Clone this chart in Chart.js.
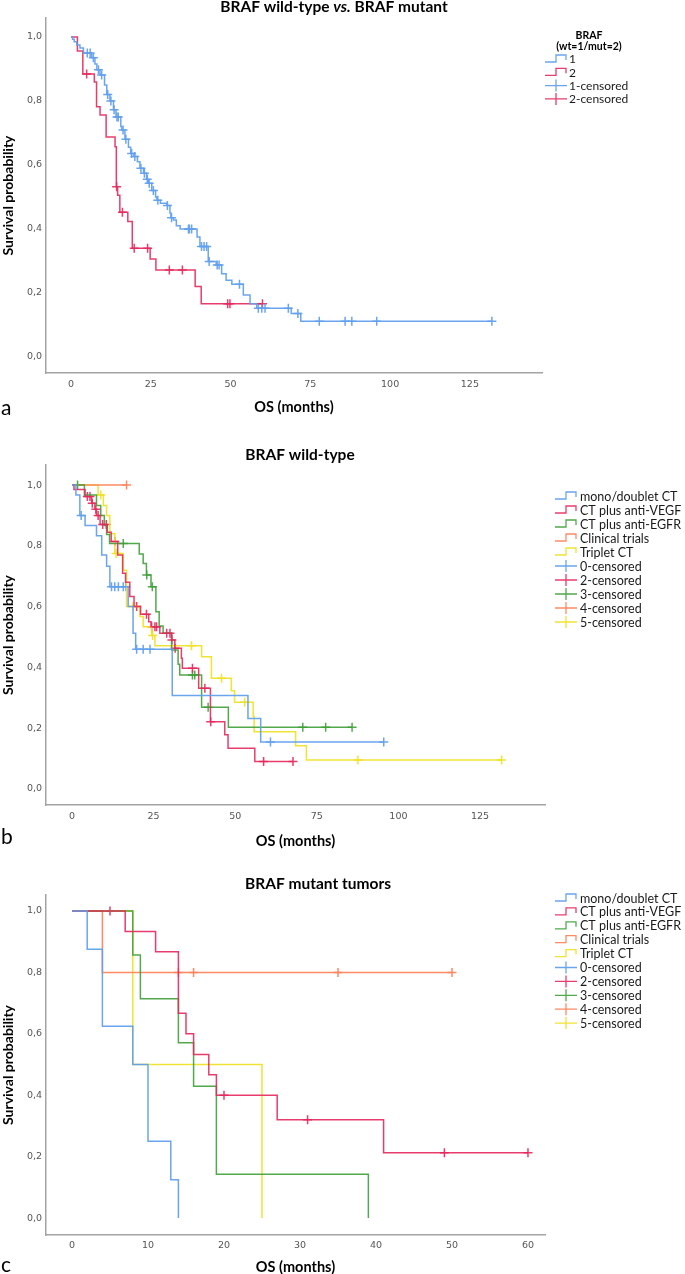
<!DOCTYPE html>
<html>
<head>
<meta charset="utf-8">
<script src="https://cdn.jsdelivr.net/npm/chart.js@4"></script>
<style>
  html, body { margin: 0; padding: 0; background: #fff; overflow: hidden; }
  canvas { position: absolute; left: 0; }
</style>
</head>
<body>
<canvas id="km_a" width="685" height="430" style="top:0px"></canvas>
<canvas id="km_b" width="685" height="430" style="top:430px"></canvas>
<canvas id="km_c" width="685" height="420" style="top:860px"></canvas>
<script>
// ---- panel a: BRAF wild-type (1) vs mutant (2) ----
const aWtTime = [0, 0.5, 1, 1.8, 2.8, 3.9, 6.5, 7.5, 8.1, 9.1, 10.5, 11.2, 12.2, 13.3, 14.1, 15.6, 15.9, 16.9, 18, 18.7, 19.7, 20.8, 21.6, 22.7, 23.7, 24.2, 25.3, 26.5, 26.9, 28, 30, 31, 31.3, 32.1, 33, 34.2, 39.5, 40.4, 43, 45.5, 47.2, 48.6, 50.4, 54, 56.1, 58.2, 69, 72];
const aWtSurv = [1, 0.993, 0.985, 0.975, 0.965, 0.95, 0.935, 0.915, 0.897, 0.881, 0.85, 0.82, 0.8, 0.772, 0.75, 0.72, 0.709, 0.68, 0.655, 0.636, 0.626, 0.61, 0.59, 0.574, 0.555, 0.543, 0.52, 0.5, 0.49, 0.48, 0.473, 0.45, 0.435, 0.428, 0.41, 0.4, 0.375, 0.345, 0.298, 0.287, 0.26, 0.24, 0.227, 0.194, 0.166, 0.152, 0.136, 0.112];
const aWtCens = [5.1, 6, 7, 8.6, 9.6, 11.5, 12.5, 13.5, 14.4, 14.8, 16.3, 17.2, 19, 20, 21.9, 23, 23.9, 24.5, 25.8, 27.2, 30.2, 31.5, 36.8, 37.1, 37.8, 40.9, 41.7, 42.5, 43.3, 45.8, 46.4, 52.8, 58.7, 59.8, 60.8, 68.1, 71.1, 77.8, 85.9, 88, 95.8, 131.9];
const aMutTime = [0, 2, 3.7, 7.3, 8, 9.1, 11, 13.8, 14.2, 14.6, 15.3, 17.8, 19.2, 24.8, 26.6, 38.9, 40.8];
const aMutSurv = [1, 0.956, 0.884, 0.859, 0.782, 0.756, 0.687, 0.657, 0.532, 0.505, 0.452, 0.423, 0.34, 0.306, 0.272, 0.22, 0.166];
const aMutCens = [4.9, 14.3, 16.1, 19.8, 24, 30.8, 34.9, 49.1, 49.8, 60];
const aXTicks = [0, 25, 50, 75, 100, 125];

// ---- panel b: BRAF wild-type by treatment ----
const bMonoTime = [0, 1.2, 2.4, 4, 7.5, 9.1, 10.6, 11.6, 17.2, 18.7, 19.5, 30.7, 53.9, 57.8];
const bMonoSurv = [1, 0.967, 0.9, 0.867, 0.833, 0.77, 0.733, 0.665, 0.6, 0.512, 0.46, 0.307, 0.232, 0.154];
const bMonoCens = [2.8, 12.1, 13.1, 14.2, 15.7, 16.5, 19.8, 21.8, 23.9, 60.8, 95.5];
const bVegfTime = [0, 0.6, 4, 6, 7, 7.5, 8.6, 10.8, 12, 14, 15.5, 16.4, 17.7, 19, 21, 23.5, 24.2, 26.9, 30.5, 31.5, 33.5, 33.8, 38.8, 42.4, 46.8, 47.8, 56];
const bVegfSurv = [1, 0.985, 0.962, 0.94, 0.92, 0.9, 0.87, 0.845, 0.814, 0.77, 0.71, 0.68, 0.633, 0.6, 0.575, 0.55, 0.534, 0.512, 0.49, 0.463, 0.43, 0.397, 0.331, 0.221, 0.178, 0.134, 0.09];
const bVegfCens = [4.7, 5.5, 6.2, 7.3, 8, 9.4, 10.5, 13.1, 19.8, 22.8, 24.4, 25.4, 25.9, 29, 30, 30.6, 31.6, 36.9, 40.7, 42.5, 58.7, 67.7];
const bEgfrTime = [0, 3.8, 7.5, 8.8, 9.9, 10.6, 11.5, 20.6, 21.8, 22.8, 24.2, 25.7, 26.7, 27.9, 30.5, 32.5, 33, 39.7, 47.9];
const bEgfrSurv = [1, 0.967, 0.933, 0.9, 0.867, 0.837, 0.808, 0.773, 0.742, 0.704, 0.665, 0.583, 0.536, 0.512, 0.457, 0.41, 0.375, 0.269, 0.203];
const bEgfrCens = [1.7, 15.7, 22.9, 24.6, 36.9, 37.6, 41.7, 70.7, 77.7, 85.8];
const bTrialTime = [0];
const bTrialSurv = [1];
const bTrialCens = [16.7];
const bTripTime = [0, 8, 9.6, 10.6, 11.6, 13.1, 15.7, 16.7, 20.8, 21.8, 24.4, 25.4, 39.7, 42.7, 48.8, 49.8, 55.5, 55.8, 68.5, 71.8];
const bTripSurv = [1, 0.967, 0.933, 0.9, 0.84, 0.775, 0.72, 0.6, 0.567, 0.534, 0.505, 0.471, 0.435, 0.364, 0.323, 0.285, 0.238, 0.188, 0.142, 0.095];
const bTripCens = [8.8, 13.5, 18.7, 24.7, 36.6, 45.8, 52.9, 87.6, 131.6];
const bXTicks = [0, 25, 50, 75, 100, 125];

// ---- panel c: BRAF mutant by treatment ----
const cMonoTime = [0, 2, 4, 8, 10, 13, 14];
const cMonoSurv = [1, 0.875, 0.625, 0.5, 0.25, 0.125, 0];
const cMonoCens = [];
const cVegfTime = [0, 7, 11, 14, 15, 16, 18, 19, 27, 41];
const cVegfSurv = [1, 0.933, 0.867, 0.667, 0.6, 0.533, 0.467, 0.4, 0.32, 0.213];
const cVegfCens = [5, 20, 31, 49, 60];
const cEgfrTime = [0, 8, 9, 14, 16, 19, 39];
const cEgfrSurv = [1, 0.857, 0.714, 0.571, 0.429, 0.143, 0];
const cEgfrCens = [];
const cTrialTime = [0, 4];
const cTrialSurv = [1, 0.8];
const cTrialCens = [14, 16, 35, 50];
const cTripTime = [0, 8, 25];
const cTripSurv = [1, 0.5, 0];
const cTripCens = [];
const cXTicks = [0, 10, 20, 30, 40, 50, 60];

const yTicks = [0, 0.2, 0.4, 0.6, 0.8, 1.0];
const treatLabels = ["mono/doublet CT", "CT plus anti-VEGF", "CT plus anti-EGFR", "Clinical trials", "Triplet CT"];
const treatCensLabels = ["0-censored", "2-censored", "3-censored", "4-censored", "5-censored"];

const BLUE = "rgba(98,160,238,0.95)";
const RED = "rgba(230,40,92,0.9)";
const GREEN = "rgba(62,160,56,0.9)";
const ORANGE = "rgba(255,132,92,0.95)";
const YELLOW = "rgba(238,226,40,0.95)";
const treatColors = [BLUE, RED, GREEN, ORANGE, YELLOW];

// KM step line: event points, then carried to the last censored time
function kmPoints(t, s, c) {
  const pts = t.map((v, i) => ({ x: v, y: s[i] }));
  const last = t[t.length - 1];
  const end = Math.max(last, ...c);
  if (end > last) pts.push({ x: end, y: s[s.length - 1] });
  return pts;
}
function survAt(t, s, time) {
  let y = s[0];
  t.forEach((v, i) => { if (v <= time) y = s[i]; });
  return y;
}
function censPoints(t, s, c) {
  return c.map(v => ({ x: v, y: survAt(t, s, v) }));
}

function buildSets(groups) {
  const lines = groups.map(g => ({
    type: "line", label: g.label, data: kmPoints(g.t, g.s, g.c),
    borderColor: g.color, borderWidth: 1.5, stepped: true,
    pointRadius: 0, fill: false, tension: 0
  }));
  const marks = groups.map(g => ({
    type: "scatter", label: g.censLabel, data: censPoints(g.t, g.s, g.c),
    borderColor: g.color, backgroundColor: g.color, pointStyle: "cross",
    pointRadius: 4.5, pointBorderWidth: 1.5, borderWidth: 1.5, showLine: false
  }));
  return lines.concat(marks);
}

// titles, panel letters and the SPSS-like legend
const panelDeco = {
  id: "panelDeco",
  afterDraw(chart, args, o) {
    const ctx = chart.ctx;
    ctx.save();
    ctx.fillStyle = "#000";
    ctx.textBaseline = "middle";

    // title, can mix italic parts
    const tf = it => (it ? "italic " : "") + "bold 15.5px Lato";
    let w = 0;
    o.title.forEach(seg => { ctx.font = tf(seg.it); w += ctx.measureText(seg.t).width; });
    let x = o.titleX - w / 2;
    ctx.textAlign = "left";
    o.title.forEach(seg => {
      ctx.font = tf(seg.it);
      ctx.fillText(seg.t, x, o.titleY);
      x += ctx.measureText(seg.t).width;
    });

    // panel letter
    ctx.font = "21px Lato";
    ctx.fillText(o.letter, 1, o.letterY);

    // legend
    const lg = o.legend;
    if (lg.head) {
      ctx.font = "bold 10.5px Lato";
      ctx.textAlign = "center";
      lg.head.forEach((h, i) => ctx.fillText(h, lg.headX, lg.headY + i * 11));
    }
    ctx.textAlign = "left";
    ctx.font = lg.size + "px Lato";
    chart.data.datasets.forEach((ds, i) => {
      const y = lg.y + i * lg.step;
      const x0 = lg.x;
      ctx.strokeStyle = ds.borderColor;
      ctx.lineWidth = 1.3;
      ctx.beginPath();
      if (ds.type === "scatter") {
        ctx.moveTo(x0, y); ctx.lineTo(x0 + 22, y);
        ctx.moveTo(x0 + 11, y - 6); ctx.lineTo(x0 + 11, y + 6);
      } else {
        ctx.moveTo(x0, y + 3); ctx.lineTo(x0 + 11, y + 3);
        ctx.lineTo(x0 + 11, y - 4); ctx.lineTo(x0 + 21, y - 4);
        ctx.lineTo(x0 + 21, y + 1);
      }
      ctx.stroke();
      ctx.fillStyle = "#1a1a1a";
      ctx.fillText(ds.label, lg.textX, y + 0.5);
    });
    ctx.restore();
  }
};

function makeChart(id, p) {
  return new Chart(document.getElementById(id), {
    type: "line",
    data: { datasets: p.datasets },
    plugins: [panelDeco],
    options: {
      responsive: false,
      devicePixelRatio: 1,
      animation: false,
      events: [],
      layout: { padding: p.padding },
      plugins: {
        legend: { display: false },
        tooltip: { enabled: false },
        title: { display: false },
        panelDeco: p.deco
      },
      scales: {
        x: {
          type: "linear", min: p.xMin, max: p.xMax,
          grid: { display: false, drawTicks: false },
          border: { display: true, color: "#a3a3a3", width: 1.5 },
          afterBuildTicks: s => { s.ticks = p.xTicks.map(v => ({ value: v })); },
          afterFit: s => { s.height = p.xAxisH; },
          ticks: {
            autoSkip: false, maxRotation: 0, padding: p.xTickPad,
            color: "#555", font: { family: "DejaVu Sans", size: 9.5 },
            callback: v => String(v)
          },
          title: {
            display: true, text: "OS (months)", color: "#000",
            font: { family: "Lato", size: 14.5, weight: "bold" },
            padding: { top: 0, bottom: 0 }
          }
        },
        y: {
          type: "linear", min: p.yMin, max: p.yMax,
          grid: { display: false, drawTicks: false },
          border: { display: true, color: "#a3a3a3", width: 1.5 },
          afterBuildTicks: s => { s.ticks = yTicks.map(v => ({ value: v })); },
          afterFit: s => { s.width = 46; },
          ticks: {
            padding: 4, color: "#555", font: { family: "DejaVu Sans", size: 9.5 },
            callback: v => v.toFixed(1).replace(".", ",")
          },
          title: {
            display: true, text: "Survival probability", color: "#000",
            font: { family: "Lato", size: 14, weight: "bold" },
            padding: { top: 0, bottom: 0 }
          }
        }
      }
    }
  });
}

function treatGroups(T, S, C) {
  return treatLabels.map((lab, i) => ({
    label: lab, censLabel: treatCensLabels[i], color: treatColors[i],
    t: T[i], s: S[i], c: C[i]
  }));
}

makeChart("km_a", {
  datasets: buildSets([
    { label: "1", censLabel: "1-censored", color: BLUE, t: aWtTime, s: aWtSurv, c: aWtCens },
    { label: "2", censLabel: "2-censored", color: RED, t: aMutTime, s: aMutSurv, c: aMutCens }
  ]),
  xMin: -7.84, xMax: 147.6, yMin: -0.05, yMax: 1.059, xTicks: aXTicks,
  padding: { left: 0, top: 18, right: 143, bottom: 14 }, xAxisH: 43, xTickPad: 6,
  deco: {
    title: [{ t: "BRAF wild-type " }, { t: "vs.", it: true }, { t: " BRAF mutant" }],
    titleX: 334, titleY: 7, letter: "a", letterY: 408,
    legend: { x: 545, textX: 569, y: 59, step: 13.3, size: 12,
              head: ["BRAF", "(wt=1/mut=2)"], headX: 589, headY: 36 }
  }
});

makeChart("km_b", {
  datasets: buildSets(treatGroups(
    [bMonoTime, bVegfTime, bEgfrTime, bTrialTime, bTripTime],
    [bMonoSurv, bVegfSurv, bEgfrSurv, bTrialSurv, bTripSurv],
    [bMonoCens, bVegfCens, bEgfrCens, bTrialCens, bTripCens])),
  xMin: -7.97, xMax: 144.9, yMin: -0.053, yMax: 1.066, xTicks: bXTicks,
  padding: { left: 0, top: 35, right: 140, bottom: 10 }, xAxisH: 45, xTickPad: 6,
  deco: {
    title: [{ t: "BRAF wild-type" }], titleX: 300, titleY: 25, letter: "b", letterY: 407,
    legend: { x: 555, textX: 580, y: 66, step: 14, size: 12.5 }
  }
});

makeChart("km_c", {
  datasets: buildSets(treatGroups(
    [cMonoTime, cVegfTime, cEgfrTime, cTrialTime, cTripTime],
    [cMonoSurv, cVegfSurv, cEgfrSurv, cTrialSurv, cTripSurv],
    [cMonoCens, cVegfCens, cEgfrCens, cTrialCens, cTripCens])),
  xMin: -3.42, xMax: 62.24, yMin: -0.055, yMax: 1.052, xTicks: cXTicks,
  padding: { left: 0, top: 35, right: 140, bottom: 4 }, xAxisH: 41, xTickPad: 5,
  deco: {
    title: [{ t: "BRAF mutant tumors" }], titleX: 318, titleY: 24, letter: "c", letterY: 405,
    legend: { x: 555, textX: 580, y: 38, step: 13.9, size: 12.5 }
  }
});
</script>
</body>
</html>
